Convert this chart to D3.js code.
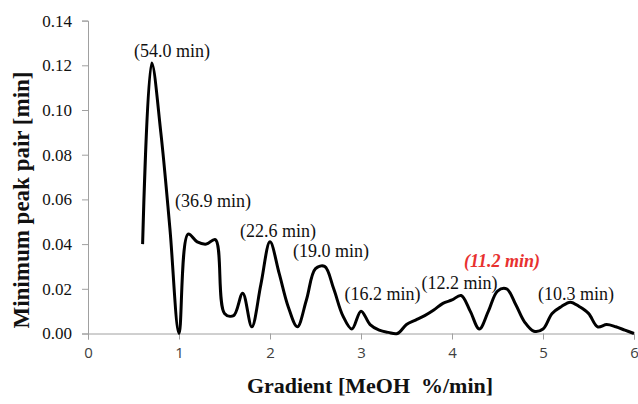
<!DOCTYPE html>
<html><head><meta charset="utf-8">
<script src="https://cdn.jsdelivr.net/npm/d3@7"></script>
<style>body{margin:0;background:#fff}</style>
</head><body>
<svg id="c" width="638" height="404"></svg>
<script>
const gradient = [0.6,0.7,0.8,0.9,1.0,1.1,1.2,1.3,1.4,1.5,1.6,1.7,1.8,1.9,2.0,2.1,2.2,2.3,2.4,2.5,2.6,2.7,2.8,2.9,3.0,3.1,3.2,3.3,3.4,3.5,3.6,3.7,3.8,3.9,4.0,4.1,4.2,4.3,4.4,4.5,4.6,4.7,4.8,4.9,5.0,5.1,5.2,5.3,5.4,5.5,5.6,5.7,5.8,5.9,6.0];
const minPair = [0.040,0.121,0.090,0.047,0.000,0.0445,0.041,0.040,0.042,0.009,0.008,0.018,0.003,0.022,0.041,0.027,0.012,0.003,0.015,0.029,0.030,0.020,0.008,0.002,0.010,0.004,0.0015,0.0005,0.000,0.004,0.006,0.008,0.0105,0.0135,0.015,0.017,0.010,0.002,0.010,0.019,0.020,0.013,0.005,0.001,0.002,0.009,0.012,0.014,0.012,0.009,0.003,0.004,0.003,0.0015,0.000];
const xTicks = [0,1,2,3,4,5,6];
const yTicks = [0,0.02,0.04,0.06,0.08,0.10,0.12,0.14];
const labelText = ["(54.0 min)","(36.9 min)","(22.6 min)","(19.0 min)","(16.2 min)","(12.2 min)","(11.2 min)","(10.3 min)"];
const labelX = [0.923,1.374,2.088,2.670,3.236,4.082,4.549,5.363];
const labelY = [0.1237,0.0566,0.0432,0.0342,0.0150,0.0199,0.0298,0.0148];
const highlight = "(11.2 min)";

const svg = d3.select("#c");
const x = d3.scaleLinear().domain([0,6]).range([88,634]);
const y = d3.scaleLinear().domain([0,0.14]).range([333.5,20.6]);
const axisColor = "#a0a0a0";

// y axis
const ya = svg.append("g").attr("transform","translate(88,0)")
  .call(d3.axisLeft(y).tickValues(yTicks).tickFormat(d3.format(".2f")).tickSize(6).tickPadding(10));
ya.select(".domain").attr("stroke",axisColor);
ya.selectAll(".tick line").attr("stroke",axisColor);
ya.selectAll(".tick text").attr("font-family","'Liberation Serif','Times New Roman',serif").attr("font-size",17).attr("fill","#111");

// x axis
const xa = svg.append("g").attr("transform","translate(0,333.5)")
  .call(d3.axisBottom(x).tickValues(xTicks).tickFormat(d3.format("d")).tickSize(6).tickPadding(8));
xa.select(".domain").attr("stroke",axisColor);
xa.selectAll(".tick line").attr("stroke",axisColor);
xa.selectAll(".tick text").attr("font-family","'Open Sans','DejaVu Sans',sans-serif").attr("font-size",15).attr("fill","#404040");

// line
const pts = gradient.map((g,i)=>[g,minPair[i]]);
svg.append("path").datum(pts)
  .attr("fill","none").attr("stroke","#000").attr("stroke-width",3).attr("stroke-linejoin","round")
  .attr("d", d3.line().x(d=>x(d[0])).y(d=>y(d[1])).curve(d3.curveCatmullRom.alpha(0.5)));

// labels
labelText.forEach((t,i)=>{
  const hi = t===highlight;
  svg.append("text").attr("x",x(labelX[i])).attr("y",y(labelY[i]))
    .attr("text-anchor","middle")
    .attr("font-family","'Liberation Serif','Times New Roman',serif")
    .attr("font-size",18)
    .attr("font-weight",hi?"bold":"normal")
    .attr("font-style",hi?"italic":"normal")
    .attr("fill",hi?"#e8312f":"#111")
    .text(t);
});

// axis titles
svg.append("text").attr("x",370).attr("y",393).attr("text-anchor","middle")
  .attr("font-family","'Liberation Serif','Times New Roman',serif").attr("font-size",22).attr("font-weight","bold")
  .attr("fill","#111").attr("xml:space","preserve").style("white-space","pre").text("Gradient [MeOH  %/min]");
svg.append("text").attr("transform","translate(29,200) rotate(-90)").attr("text-anchor","middle")
  .attr("font-family","'Liberation Serif','Times New Roman',serif").attr("font-size",23).attr("font-weight","bold")
  .attr("fill","#111").text("Minimum peak pair [min]");
</script>
</body></html>
